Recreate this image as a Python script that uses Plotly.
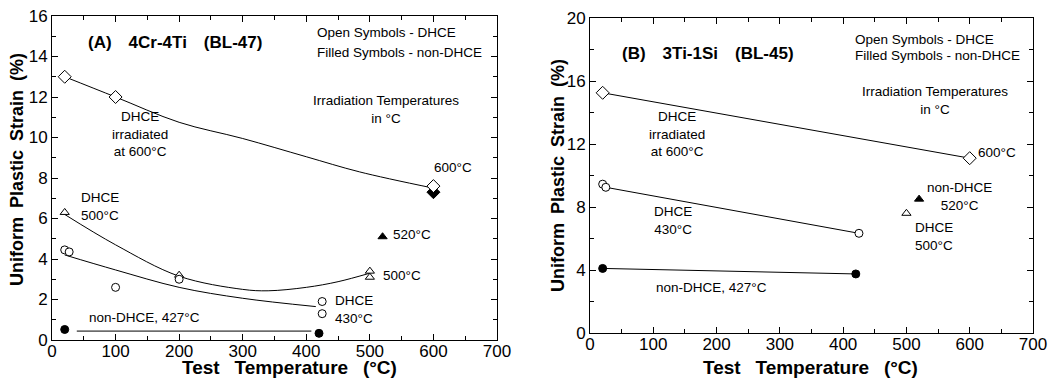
import plotly.graph_objects as go

# ---------------- Panel A: 4Cr-4Ti (BL-47) ----------------
a_dia_open_x = [20, 100, 600]
a_dia_open_y = [13.0, 12.0, 7.6]
a_dia_fill_x = [600]
a_dia_fill_y = [7.3]
a_dia_fit_x = [20, 100, 200, 300, 400, 484, 600]
a_dia_fit_y = [13.0, 12.0, 10.75, 9.95, 9.05, 8.3, 7.5]

a_tri_open_x = [20, 200, 500, 500]
a_tri_open_y = [6.3, 3.2, 3.4, 3.1]
a_tri_fill_x = [520]
a_tri_fill_y = [5.1]
a_tri_fit_x = [20, 100, 200, 300, 340, 400, 450, 500]
a_tri_fit_y = [6.2, 4.7, 3.15, 2.5, 2.43, 2.6, 2.88, 3.3]

a_cir_open_x = [20, 27, 100, 200, 425, 425]
a_cir_open_y = [4.45, 4.35, 2.6, 3.0, 1.9, 1.3]
a_cir_fit_x = [20, 100, 200, 300, 415]
a_cir_fit_y = [4.2, 3.46, 2.6, 2.06, 1.65]

a_cir_fill_x = [20, 420]
a_cir_fill_y = [0.52, 0.33]
a_cir_fill_line_x = [39, 408]
a_cir_fill_line_y = [0.44, 0.44]

# ---------------- Panel B: 3Ti-1Si (BL-45) ----------------
b_dia_open_x = [20, 600]
b_dia_open_y = [15.25, 11.1]
b_cir_open_x = [20, 25, 425]
b_cir_open_y = [9.45, 9.25, 6.33]
b_cir_line_x = [25, 425]
b_cir_line_y = [9.25, 6.33]
b_cir_fill_x = [20, 420]
b_cir_fill_y = [4.1, 3.75]
b_tri_open_x = [500]
b_tri_open_y = [7.6]
b_tri_fill_x = [520]
b_tri_fill_y = [8.5]

x_ticks = [0, 100, 200, 300, 400, 500, 600, 700]
a_y_ticks = [0, 2, 4, 6, 8, 10, 12, 14, 16]
b_y_ticks = [0, 4, 8, 12, 16, 20]

FONT = "Liberation Sans, Arial, Helvetica, sans-serif"
BLACK = "black"
EN = "\u2002"
NB = "\u00a0"

fig = go.Figure()

def line(x, y, xa, ya, shape="spline"):
    fig.add_trace(go.Scatter(x=x, y=y, mode="lines", xaxis=xa, yaxis=ya,
                             line=dict(color=BLACK, width=1, shape=shape),
                             showlegend=False, hoverinfo="skip"))

def marks(x, y, xa, ya, symbol, size, filled):
    fig.add_trace(go.Scatter(x=x, y=y, mode="markers", xaxis=xa, yaxis=ya,
                             marker=dict(symbol=symbol, size=size,
                                         color=BLACK if filled else "white",
                                         line=dict(color=BLACK, width=1)),
                             showlegend=False))

# Panel A
line(a_dia_fit_x, a_dia_fit_y, "x", "y")
line(a_tri_fit_x, a_tri_fit_y, "x", "y")
line(a_cir_fit_x, a_cir_fit_y, "x", "y")
line(a_cir_fill_line_x, a_cir_fill_line_y, "x", "y", "linear")
marks(a_dia_fill_x, a_dia_fill_y, "x", "y", "diamond", 10, True)
marks(a_dia_open_x, a_dia_open_y, "x", "y", "diamond", 10, False)
marks(a_tri_open_x, a_tri_open_y, "x", "y", "triangle-up", 8, False)
marks(a_tri_fill_x, a_tri_fill_y, "x", "y", "triangle-up", 8, True)
marks(a_cir_open_x, a_cir_open_y, "x", "y", "circle", 8, False)
marks(a_cir_fill_x, a_cir_fill_y, "x", "y", "circle", 8, True)

# Panel B
line(b_dia_open_x, b_dia_open_y, "x2", "y2", "linear")
line(b_cir_line_x, b_cir_line_y, "x2", "y2", "linear")
line(b_cir_fill_x, b_cir_fill_y, "x2", "y2", "linear")
marks(b_dia_open_x, b_dia_open_y, "x2", "y2", "diamond", 10, False)
marks(b_cir_open_x, b_cir_open_y, "x2", "y2", "circle", 8, False)
marks(b_cir_fill_x, b_cir_fill_y, "x2", "y2", "circle", 8, True)
marks(b_tri_open_x, b_tri_open_y, "x2", "y2", "triangle-up", 8, False)
marks(b_tri_fill_x, b_tri_fill_y, "x2", "y2", "triangle-up", 8, True)

axis_common = dict(showline=True, linecolor=BLACK, linewidth=1, mirror="ticks",
                   ticks="inside", ticklen=6, tickcolor=BLACK, showgrid=False,
                   zeroline=False, automargin=False,
                   tickfont=dict(family=FONT, size=17, color=BLACK))

fig.update_layout(
    width=1048, height=380,
    margin=dict(l=0, r=0, t=0, b=0),
    paper_bgcolor="white", plot_bgcolor="white",
    font=dict(family=FONT, color=BLACK),
    xaxis=dict(domain=[52 / 1048, 497 / 1048], range=[0, 700], tickvals=x_ticks,
               minor=dict(dtick=50, ticks="inside", ticklen=4, tickcolor=BLACK),
               ticklabelstandoff=-4, anchor="y", **axis_common),
    yaxis=dict(domain=[40 / 380, 364 / 380], range=[0, 16], tickvals=a_y_ticks,
               minor=dict(dtick=1, ticks="inside", ticklen=4, tickcolor=BLACK),
               anchor="x", **axis_common),
    xaxis2=dict(domain=[590 / 1048, 1033 / 1048], range=[0, 700], tickvals=x_ticks,
                minor=dict(dtick=50, ticks="inside", ticklen=4, tickcolor=BLACK),
                ticklabelstandoff=-4, anchor="y2", **axis_common),
    yaxis2=dict(domain=[47 / 380, 362 / 380], range=[0, 20], tickvals=b_y_ticks,
                minor=dict(dtick=2, ticks="inside", ticklen=4, tickcolor=BLACK),
                anchor="x2", **axis_common),
)

# axis titles (paper coordinates)
xt = f"<b>Test{EN}{NB}Temperature{EN}{NB}(°C)</b>"
yt = f"<b>Uniform{EN}Plastic{EN}Strain{EN}(%)</b>"
for cx in (289 / 1048, 810 / 1048):
    fig.add_annotation(text=xt, x=cx, y=0, xref="paper", yref="paper",
                       showarrow=False, xanchor="center", yanchor="bottom",
                       font=dict(family=FONT, size=19, color=BLACK))
for cx, cy in ((17 / 1048, 1 - 170 / 380), (558 / 1048, 1 - 176 / 380)):
    fig.add_annotation(text=yt, x=cx, y=cy, xref="paper", yref="paper",
                       showarrow=False, xanchor="center", yanchor="middle",
                       textangle=-90, font=dict(family=FONT, size=18, color=BLACK))

def ann(text, x, y, xa, ya, size=13.5, xanchor="center", bold=False, align="center"):
    fig.add_annotation(text=f"<b>{text}</b>" if bold else text, x=x, y=y,
                       xref=xa, yref=ya, showarrow=False, xanchor=xanchor,
                       yanchor="middle", align=align,
                       font=dict(family=FONT, size=size, color=BLACK))

# Panel A annotations
ann(f"(A){EN}{EN}4Cr-4Ti{EN}{EN}(BL-47)", 193, 14.7, "x", "y", size=17, bold=True)
ann("Open Symbols - DHCE", 413, 15.2, "x", "y", xanchor="left")
ann("Filled Symbols - non-DHCE", 413, 14.2, "x", "y", xanchor="left")
ann("Irradiation Temperatures<br>in °C", 525, 11.36, "x", "y")
ann("DHCE<br>irradiated<br>at 600°C", 138, 10.17, "x", "y")
ann("600°C", 630, 8.5, "x", "y")
ann("DHCE<br>500°C", 42, 6.57, "x", "y", xanchor="left", align="left")
ann("520°C", 534, 5.23, "x", "y", xanchor="left")
ann("500°C", 518, 3.2, "x", "y", xanchor="left")
ann("DHCE<br>430°C", 442, 1.53, "x", "y", xanchor="left", align="left")
ann("non-DHCE, 427°C", 55, 1.13, "x", "y", xanchor="left")

# Panel B annotations
ann(f"(B){EN}{EN}3Ti-1Si{EN}{EN}(BL-45)", 186, 17.76, "x2", "y2", size=17, bold=True)
ann("Open Symbols - DHCE", 415, 18.65, "x2", "y2", xanchor="left")
ann("Filled Symbols - non-DHCE", 415, 17.65, "x2", "y2", xanchor="left")
ann("Irradiation Temperatures<br>in °C", 545, 14.74, "x2", "y2")
ann("DHCE<br>irradiated<br>at 600°C", 137, 12.63, "x2", "y2")
ann("600°C", 610, 11.45, "x2", "y2", xanchor="left")
ann("non-DHCE<br>520°C", 584, 8.68, "x2", "y2")
ann("DHCE<br>500°C", 510, 6.1, "x2", "y2", xanchor="left", align="left")
ann("DHCE<br>430°C", 131, 7.17, "x2", "y2")
ann("non-DHCE, 427°C", 192, 2.9, "x2", "y2")

fig.write_html("out.html", config={"displayModeBar": False},
               post_script="document.body.style.margin='0';document.body.style.overflow='hidden';")
